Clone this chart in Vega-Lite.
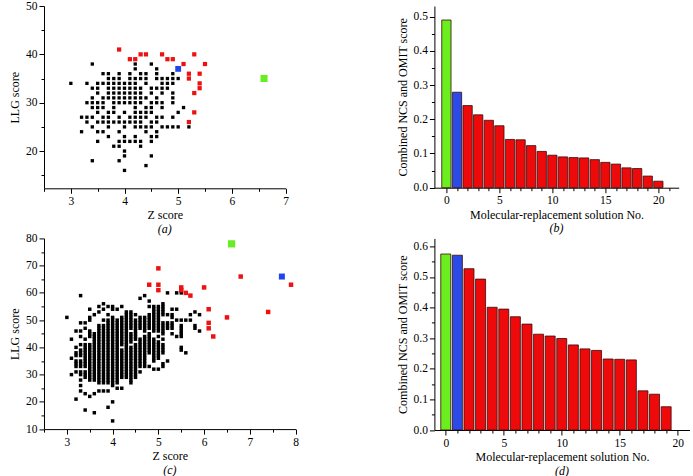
{
"$schema": "https://vega.github.io/schema/vega-lite/v6.json",
"padding": {"left": 8, "top": 0, "right": 0, "bottom": 0},
"background": "white",
"config": {
  "font": "Liberation Serif",
  "view": {"stroke": null},
  "axis": {"grid": false, "domain": true, "ticks": true, "domainColor": "#000", "tickColor": "#000", "labelColor": "#000", "titleColor": "#000", "labelFontSize": 11.5, "titleFontSize": 12, "titleFontWeight": "normal", "labelFont": "Liberation Serif", "titleFont": "Liberation Serif", "domainWidth": 1, "tickWidth": 1, "labelFlush": false, "labelOverlap": false},
  "axisX": {"titlePadding": 3, "labelPadding": 2},
  "axisY": {"titlePadding": 4},
  "title": {"font": "Liberation Serif", "fontSize": 12, "fontWeight": "normal", "fontStyle": "italic", "orient": "bottom", "offset": 3, "color": "#000"}
},
"datasets": {
"ak": [
{"z":3.4,"y":38},{"z":4.2,"y":38},{"z":4.5,"y":38},
{"z":4.2,"y":37},{"z":4.6,"y":37},
{"z":3.6,"y":36},{"z":3.7,"y":36},{"z":3.9,"y":36},{"z":4.1,"y":36},{"z":4.3,"y":36},{"z":4.4,"y":36},{"z":4.6,"y":36},{"z":4.9,"y":36},
{"z":3.7,"y":35},{"z":3.8,"y":35},{"z":3.9,"y":35},{"z":4.1,"y":35},{"z":4.2,"y":35},{"z":4.3,"y":35},{"z":4.4,"y":35},{"z":4.6,"y":35},{"z":4.7,"y":35},{"z":4.8,"y":35},{"z":4.9,"y":35},{"z":5.0,"y":35},
{"z":3.0,"y":34},{"z":3.3,"y":34},{"z":3.5,"y":34},{"z":3.6,"y":34},{"z":3.7,"y":34},{"z":3.8,"y":34},{"z":3.9,"y":34},{"z":4.0,"y":34},{"z":4.1,"y":34},{"z":4.2,"y":34},{"z":4.4,"y":34},{"z":4.7,"y":34},{"z":4.8,"y":34},{"z":4.9,"y":34},
{"z":3.4,"y":33},{"z":3.5,"y":33},{"z":3.7,"y":33},{"z":3.8,"y":33},{"z":3.9,"y":33},{"z":4.0,"y":33},{"z":4.1,"y":33},{"z":4.2,"y":33},{"z":4.3,"y":33},{"z":4.5,"y":33},{"z":4.6,"y":33},{"z":4.7,"y":33},{"z":4.8,"y":33},
{"z":3.5,"y":32},{"z":3.7,"y":32},{"z":3.8,"y":32},{"z":3.9,"y":32},{"z":4.0,"y":32},{"z":4.1,"y":32},{"z":4.2,"y":32},{"z":4.3,"y":32},{"z":4.5,"y":32},{"z":4.7,"y":32},{"z":4.9,"y":32},
{"z":3.4,"y":31},{"z":3.6,"y":31},{"z":3.7,"y":31},{"z":3.8,"y":31},{"z":3.9,"y":31},{"z":4.0,"y":31},{"z":4.1,"y":31},{"z":4.2,"y":31},{"z":4.3,"y":31},{"z":4.4,"y":31},{"z":4.6,"y":31},{"z":4.9,"y":31},
{"z":3.3,"y":30},{"z":3.4,"y":30},{"z":3.5,"y":30},{"z":3.6,"y":30},{"z":3.8,"y":30},{"z":3.9,"y":30},{"z":4.0,"y":30},{"z":4.1,"y":30},{"z":4.2,"y":30},{"z":4.3,"y":30},{"z":4.5,"y":30},{"z":4.6,"y":30},{"z":4.7,"y":30},{"z":4.9,"y":30},
{"z":3.4,"y":29},{"z":3.5,"y":29},{"z":3.6,"y":29},{"z":3.8,"y":29},{"z":4.2,"y":29},{"z":4.4,"y":29},{"z":4.5,"y":29},{"z":4.7,"y":29},{"z":5.1,"y":29},
{"z":3.5,"y":28},{"z":3.7,"y":28},{"z":3.8,"y":28},{"z":4.0,"y":28},{"z":4.2,"y":28},{"z":4.3,"y":28},{"z":4.4,"y":28},{"z":4.5,"y":28},{"z":5.0,"y":28},
{"z":3.2,"y":27},{"z":3.3,"y":27},{"z":3.4,"y":27},{"z":3.6,"y":27},{"z":3.7,"y":27},{"z":3.9,"y":27},{"z":4.1,"y":27},{"z":4.2,"y":27},{"z":4.3,"y":27},{"z":4.4,"y":27},{"z":4.6,"y":27},{"z":4.7,"y":27},{"z":4.9,"y":27},
{"z":3.3,"y":26},{"z":3.5,"y":26},{"z":3.6,"y":26},{"z":3.7,"y":26},{"z":3.8,"y":26},{"z":3.9,"y":26},{"z":4.0,"y":26},{"z":4.1,"y":26},{"z":4.2,"y":26},{"z":4.3,"y":26},{"z":4.5,"y":26},{"z":4.6,"y":26},
{"z":3.4,"y":25},{"z":3.7,"y":25},{"z":4.0,"y":25},{"z":4.2,"y":25},{"z":4.3,"y":25},{"z":4.4,"y":25},{"z":4.5,"y":25},{"z":4.7,"y":25},{"z":4.8,"y":25},{"z":4.9,"y":25},{"z":5.0,"y":25},{"z":5.2,"y":25},
{"z":3.2,"y":24},{"z":3.5,"y":24},{"z":3.6,"y":24},{"z":3.9,"y":24},{"z":4.4,"y":24},{"z":4.6,"y":24},
{"z":3.7,"y":23},{"z":4.0,"y":23},{"z":4.2,"y":23},{"z":4.5,"y":23},{"z":4.6,"y":23},
{"z":3.5,"y":22},{"z":3.9,"y":22},{"z":4.0,"y":22},{"z":4.1,"y":22},{"z":4.2,"y":22},{"z":4.3,"y":22},{"z":4.5,"y":22},
{"z":3.8,"y":21},{"z":3.9,"y":21},{"z":4.3,"y":21},
{"z":4.0,"y":20},
{"z":4.0,"y":19},{"z":4.5,"y":19},
{"z":3.4,"y":18},{"z":3.9,"y":18},
{"z":4.4,"y":17},
{"z":4.0,"y":16}
],
"ah": [
{"z":3.9,"y":41,"g":"r"},{"z":4.1,"y":39,"g":"r"},{"z":4.2,"y":39,"g":"r"},{"z":4.3,"y":40,"g":"r"},{"z":4.4,"y":40,"g":"r"},{"z":4.7,"y":40,"g":"r"},{"z":4.8,"y":39,"g":"r"},{"z":4.9,"y":39,"g":"r"},{"z":5.1,"y":38,"g":"r"},{"z":5.3,"y":40,"g":"r"},{"z":5.5,"y":38,"g":"r"},{"z":5.2,"y":36,"g":"r"},{"z":5.4,"y":36,"g":"r"},{"z":5.2,"y":35,"g":"r"},{"z":5.4,"y":34,"g":"r"},{"z":5.4,"y":33,"g":"r"},{"z":5.3,"y":32,"g":"r"},{"z":5.3,"y":28,"g":"r"},{"z":5.2,"y":26,"g":"r"},
{"z":5.0,"y":37,"g":"b"},
{"z":6.6,"y":35,"g":"g"}
],
"ck": [
{"z":3.0,"y":51},
{"z":3.1,"y":43},{"z":3.1,"y":36},{"z":3.1,"y":30},
{"z":3.2,"y":46},{"z":3.2,"y":40},{"z":3.2,"y":38},{"z":3.2,"y":37},{"z":3.2,"y":35},{"z":3.2,"y":34},{"z":3.2,"y":33},{"z":3.2,"y":31},{"z":3.2,"y":21},
{"z":3.3,"y":59},{"z":3.3,"y":49},{"z":3.3,"y":46},{"z":3.3,"y":44},{"z":3.3,"y":41},{"z":3.3,"y":39},{"z":3.3,"y":38},{"z":3.3,"y":37},{"z":3.3,"y":35},{"z":3.3,"y":34},{"z":3.3,"y":33},{"z":3.3,"y":31},{"z":3.3,"y":30},{"z":3.3,"y":28},{"z":3.3,"y":26},{"z":3.3,"y":24},
{"z":3.4,"y":49},{"z":3.4,"y":47},{"z":3.4,"y":43},{"z":3.4,"y":41},{"z":3.4,"y":40},{"z":3.4,"y":39},{"z":3.4,"y":38},{"z":3.4,"y":37},{"z":3.4,"y":36},{"z":3.4,"y":35},{"z":3.4,"y":34},{"z":3.4,"y":33},{"z":3.4,"y":31},{"z":3.4,"y":30},{"z":3.4,"y":29},{"z":3.4,"y":23},{"z":3.4,"y":17},
{"z":3.5,"y":54},{"z":3.5,"y":51},{"z":3.5,"y":50},{"z":3.5,"y":46},{"z":3.5,"y":45},{"z":3.5,"y":44},{"z":3.5,"y":41},{"z":3.5,"y":40},{"z":3.5,"y":39},{"z":3.5,"y":38},{"z":3.5,"y":37},{"z":3.5,"y":36},{"z":3.5,"y":35},{"z":3.5,"y":34},{"z":3.5,"y":33},{"z":3.5,"y":32},{"z":3.5,"y":31},{"z":3.5,"y":30},{"z":3.5,"y":29},{"z":3.5,"y":28},{"z":3.5,"y":22},
{"z":3.6,"y":52},{"z":3.6,"y":45},{"z":3.6,"y":44},{"z":3.6,"y":43},{"z":3.6,"y":42},{"z":3.6,"y":41},{"z":3.6,"y":40},{"z":3.6,"y":39},{"z":3.6,"y":38},{"z":3.6,"y":37},{"z":3.6,"y":36},{"z":3.6,"y":35},{"z":3.6,"y":34},{"z":3.6,"y":33},{"z":3.6,"y":32},{"z":3.6,"y":31},{"z":3.6,"y":30},{"z":3.6,"y":29},{"z":3.6,"y":28},{"z":3.6,"y":23},{"z":3.6,"y":16},
{"z":3.7,"y":55},{"z":3.7,"y":53},{"z":3.7,"y":48},{"z":3.7,"y":47},{"z":3.7,"y":46},{"z":3.7,"y":45},{"z":3.7,"y":44},{"z":3.7,"y":43},{"z":3.7,"y":42},{"z":3.7,"y":41},{"z":3.7,"y":40},{"z":3.7,"y":39},{"z":3.7,"y":38},{"z":3.7,"y":37},{"z":3.7,"y":36},{"z":3.7,"y":35},{"z":3.7,"y":34},{"z":3.7,"y":33},{"z":3.7,"y":32},{"z":3.7,"y":31},{"z":3.7,"y":30},{"z":3.7,"y":29},{"z":3.7,"y":28},{"z":3.7,"y":27},{"z":3.7,"y":24},
{"z":3.8,"y":56},{"z":3.8,"y":54},{"z":3.8,"y":50},{"z":3.8,"y":48},{"z":3.8,"y":47},{"z":3.8,"y":46},{"z":3.8,"y":45},{"z":3.8,"y":44},{"z":3.8,"y":43},{"z":3.8,"y":42},{"z":3.8,"y":41},{"z":3.8,"y":40},{"z":3.8,"y":39},{"z":3.8,"y":38},{"z":3.8,"y":37},{"z":3.8,"y":36},{"z":3.8,"y":35},{"z":3.8,"y":34},{"z":3.8,"y":33},{"z":3.8,"y":32},{"z":3.8,"y":31},{"z":3.8,"y":30},{"z":3.8,"y":29},{"z":3.8,"y":28},{"z":3.8,"y":27},{"z":3.8,"y":24},
{"z":3.9,"y":55},{"z":3.9,"y":52},{"z":3.9,"y":50},{"z":3.9,"y":49},{"z":3.9,"y":48},{"z":3.9,"y":47},{"z":3.9,"y":46},{"z":3.9,"y":45},{"z":3.9,"y":44},{"z":3.9,"y":43},{"z":3.9,"y":42},{"z":3.9,"y":41},{"z":3.9,"y":40},{"z":3.9,"y":39},{"z":3.9,"y":38},{"z":3.9,"y":37},{"z":3.9,"y":36},{"z":3.9,"y":35},{"z":3.9,"y":34},{"z":3.9,"y":33},{"z":3.9,"y":32},{"z":3.9,"y":31},{"z":3.9,"y":30},{"z":3.9,"y":29},{"z":3.9,"y":28},{"z":3.9,"y":27},{"z":3.9,"y":24},{"z":3.9,"y":18},
{"z":4.0,"y":55},{"z":4.0,"y":54},{"z":4.0,"y":51},{"z":4.0,"y":50},{"z":4.0,"y":49},{"z":4.0,"y":48},{"z":4.0,"y":47},{"z":4.0,"y":46},{"z":4.0,"y":45},{"z":4.0,"y":44},{"z":4.0,"y":43},{"z":4.0,"y":42},{"z":4.0,"y":41},{"z":4.0,"y":40},{"z":4.0,"y":39},{"z":4.0,"y":38},{"z":4.0,"y":37},{"z":4.0,"y":36},{"z":4.0,"y":35},{"z":4.0,"y":34},{"z":4.0,"y":33},{"z":4.0,"y":32},{"z":4.0,"y":31},{"z":4.0,"y":30},{"z":4.0,"y":29},{"z":4.0,"y":28},{"z":4.0,"y":27},{"z":4.0,"y":26},{"z":4.0,"y":20},{"z":4.0,"y":13},
{"z":4.1,"y":54},{"z":4.1,"y":50},{"z":4.1,"y":49},{"z":4.1,"y":48},{"z":4.1,"y":47},{"z":4.1,"y":46},{"z":4.1,"y":45},{"z":4.1,"y":44},{"z":4.1,"y":43},{"z":4.1,"y":42},{"z":4.1,"y":41},{"z":4.1,"y":40},{"z":4.1,"y":39},{"z":4.1,"y":38},{"z":4.1,"y":37},{"z":4.1,"y":36},{"z":4.1,"y":35},{"z":4.1,"y":34},{"z":4.1,"y":33},{"z":4.1,"y":32},{"z":4.1,"y":31},{"z":4.1,"y":30},{"z":4.1,"y":29},{"z":4.1,"y":28},{"z":4.1,"y":27},{"z":4.1,"y":25},
{"z":4.2,"y":55},{"z":4.2,"y":51},{"z":4.2,"y":50},{"z":4.2,"y":49},{"z":4.2,"y":48},{"z":4.2,"y":47},{"z":4.2,"y":46},{"z":4.2,"y":45},{"z":4.2,"y":44},{"z":4.2,"y":43},{"z":4.2,"y":42},{"z":4.2,"y":41},{"z":4.2,"y":39},{"z":4.2,"y":38},{"z":4.2,"y":37},{"z":4.2,"y":36},{"z":4.2,"y":35},{"z":4.2,"y":34},{"z":4.2,"y":33},{"z":4.2,"y":32},{"z":4.2,"y":31},{"z":4.2,"y":30},{"z":4.2,"y":29},{"z":4.2,"y":25},
{"z":4.3,"y":53},{"z":4.3,"y":52},{"z":4.3,"y":51},{"z":4.3,"y":50},{"z":4.3,"y":49},{"z":4.3,"y":48},{"z":4.3,"y":47},{"z":4.3,"y":46},{"z":4.3,"y":45},{"z":4.3,"y":44},{"z":4.3,"y":43},{"z":4.3,"y":42},{"z":4.3,"y":41},{"z":4.3,"y":40},{"z":4.3,"y":39},{"z":4.3,"y":38},{"z":4.3,"y":37},{"z":4.3,"y":36},{"z":4.3,"y":35},{"z":4.3,"y":34},{"z":4.3,"y":33},{"z":4.3,"y":32},{"z":4.3,"y":31},{"z":4.3,"y":30},{"z":4.3,"y":29},
{"z":4.4,"y":53},{"z":4.4,"y":52},{"z":4.4,"y":51},{"z":4.4,"y":50},{"z":4.4,"y":49},{"z":4.4,"y":48},{"z":4.4,"y":47},{"z":4.4,"y":45},{"z":4.4,"y":44},{"z":4.4,"y":43},{"z":4.4,"y":42},{"z":4.4,"y":40},{"z":4.4,"y":39},{"z":4.4,"y":38},{"z":4.4,"y":37},{"z":4.4,"y":36},{"z":4.4,"y":35},{"z":4.4,"y":34},{"z":4.4,"y":33},{"z":4.4,"y":32},{"z":4.4,"y":31},{"z":4.4,"y":30},{"z":4.4,"y":29},{"z":4.4,"y":28},{"z":4.4,"y":27},
{"z":4.5,"y":52},{"z":4.5,"y":50},{"z":4.5,"y":49},{"z":4.5,"y":48},{"z":4.5,"y":47},{"z":4.5,"y":46},{"z":4.5,"y":45},{"z":4.5,"y":44},{"z":4.5,"y":43},{"z":4.5,"y":41},{"z":4.5,"y":40},{"z":4.5,"y":39},{"z":4.5,"y":38},{"z":4.5,"y":37},{"z":4.5,"y":36},{"z":4.5,"y":35},{"z":4.5,"y":34},{"z":4.5,"y":33},{"z":4.5,"y":32},{"z":4.5,"y":31},{"z":4.5,"y":30},{"z":4.5,"y":29},
{"z":4.6,"y":58},{"z":4.6,"y":51},{"z":4.6,"y":50},{"z":4.6,"y":49},{"z":4.6,"y":48},{"z":4.6,"y":47},{"z":4.6,"y":43},{"z":4.6,"y":42},{"z":4.6,"y":41},{"z":4.6,"y":40},{"z":4.6,"y":39},{"z":4.6,"y":38},{"z":4.6,"y":37},{"z":4.6,"y":36},{"z":4.6,"y":35},{"z":4.6,"y":34},{"z":4.6,"y":33},{"z":4.6,"y":31},
{"z":4.7,"y":59},{"z":4.7,"y":51},{"z":4.7,"y":50},{"z":4.7,"y":49},{"z":4.7,"y":48},{"z":4.7,"y":47},{"z":4.7,"y":46},{"z":4.7,"y":44},{"z":4.7,"y":43},{"z":4.7,"y":42},{"z":4.7,"y":41},{"z":4.7,"y":40},{"z":4.7,"y":39},{"z":4.7,"y":38},{"z":4.7,"y":37},{"z":4.7,"y":36},{"z":4.7,"y":35},{"z":4.7,"y":34},{"z":4.7,"y":33},
{"z":4.8,"y":57},{"z":4.8,"y":55},{"z":4.8,"y":52},{"z":4.8,"y":51},{"z":4.8,"y":50},{"z":4.8,"y":49},{"z":4.8,"y":48},{"z":4.8,"y":47},{"z":4.8,"y":45},{"z":4.8,"y":44},{"z":4.8,"y":43},{"z":4.8,"y":42},{"z":4.8,"y":41},{"z":4.8,"y":40},{"z":4.8,"y":39},{"z":4.8,"y":38},{"z":4.8,"y":33},
{"z":4.9,"y":55},{"z":4.9,"y":54},{"z":4.9,"y":53},{"z":4.9,"y":52},{"z":4.9,"y":51},{"z":4.9,"y":50},{"z":4.9,"y":49},{"z":4.9,"y":48},{"z":4.9,"y":47},{"z":4.9,"y":46},{"z":4.9,"y":43},{"z":4.9,"y":42},{"z":4.9,"y":41},{"z":4.9,"y":40},{"z":4.9,"y":39},{"z":4.9,"y":38},{"z":4.9,"y":37},{"z":4.9,"y":36},{"z":4.9,"y":35},{"z":4.9,"y":32},
{"z":5.0,"y":55},{"z":5.0,"y":54},{"z":5.0,"y":53},{"z":5.0,"y":52},{"z":5.0,"y":51},{"z":5.0,"y":50},{"z":5.0,"y":49},{"z":5.0,"y":48},{"z":5.0,"y":47},{"z":5.0,"y":46},{"z":5.0,"y":44},{"z":5.0,"y":42},{"z":5.0,"y":41},{"z":5.0,"y":40},{"z":5.0,"y":39},{"z":5.0,"y":38},{"z":5.0,"y":37},{"z":5.0,"y":36},{"z":5.0,"y":32},
{"z":5.1,"y":56},{"z":5.1,"y":55},{"z":5.1,"y":54},{"z":5.1,"y":53},{"z":5.1,"y":52},{"z":5.1,"y":49},{"z":5.1,"y":48},{"z":5.1,"y":47},{"z":5.1,"y":46},{"z":5.1,"y":45},{"z":5.1,"y":43},{"z":5.1,"y":41},{"z":5.1,"y":40},{"z":5.1,"y":39},{"z":5.1,"y":38},{"z":5.1,"y":34},{"z":5.1,"y":33},
{"z":5.2,"y":60},{"z":5.2,"y":52},{"z":5.2,"y":49},{"z":5.2,"y":48},{"z":5.2,"y":47},{"z":5.2,"y":35},
{"z":5.3,"y":54},{"z":5.3,"y":52},{"z":5.3,"y":51},{"z":5.3,"y":49},{"z":5.3,"y":48},{"z":5.3,"y":47},{"z":5.3,"y":45},
{"z":5.4,"y":60},{"z":5.4,"y":54},{"z":5.4,"y":50},{"z":5.4,"y":44},
{"z":5.5,"y":60},{"z":5.5,"y":50},{"z":5.5,"y":48},{"z":5.5,"y":47},{"z":5.5,"y":46},{"z":5.5,"y":45},{"z":5.5,"y":44},{"z":5.5,"y":40},{"z":5.5,"y":39},
{"z":5.6,"y":50},{"z":5.6,"y":38},
{"z":5.7,"y":52},{"z":5.7,"y":50},
{"z":5.8,"y":53},{"z":5.8,"y":48},{"z":5.8,"y":47},
{"z":5.9,"y":52},{"z":5.9,"y":46}
],
"ch": [
{"z":4.8,"y":63,"g":"r"},{"z":5.0,"y":69,"g":"r"},{"z":5.0,"y":63,"g":"r"},{"z":5.0,"y":61,"g":"r"},{"z":5.5,"y":62,"g":"r"},{"z":5.5,"y":61,"g":"r"},{"z":5.6,"y":60,"g":"r"},{"z":5.7,"y":59,"g":"r"},{"z":6.0,"y":62,"g":"r"},{"z":6.1,"y":54,"g":"r"},{"z":6.1,"y":49,"g":"r"},{"z":6.1,"y":47,"g":"r"},{"z":6.2,"y":44,"g":"r"},{"z":6.5,"y":51,"g":"r"},{"z":6.8,"y":66,"g":"r"},{"z":7.4,"y":53,"g":"r"},{"z":7.9,"y":63,"g":"r"},
{"z":7.7,"y":66,"g":"b"},
{"z":6.6,"y":78,"g":"g"}
],
"b": [
{"i":0,"v":0.49,"g":"g"},{"i":1,"v":0.279,"g":"b"},{"i":2,"v":0.240,"g":"r"},{"i":3,"v":0.213,"g":"r"},{"i":4,"v":0.197,"g":"r"},{"i":5,"v":0.181,"g":"r"},{"i":6,"v":0.141,"g":"r"},{"i":7,"v":0.140,"g":"r"},{"i":8,"v":0.123,"g":"r"},{"i":9,"v":0.106,"g":"r"},{"i":10,"v":0.095,"g":"r"},{"i":11,"v":0.090,"g":"r"},{"i":12,"v":0.088,"g":"r"},{"i":13,"v":0.087,"g":"r"},{"i":14,"v":0.082,"g":"r"},{"i":15,"v":0.074,"g":"r"},{"i":16,"v":0.069,"g":"r"},{"i":17,"v":0.058,"g":"r"},{"i":18,"v":0.056,"g":"r"},{"i":19,"v":0.034,"g":"r"},{"i":20,"v":0.019,"g":"r"}
],
"d": [
{"i":0,"v":0.575,"g":"g"},{"i":1,"v":0.571,"g":"b"},{"i":2,"v":0.527,"g":"r"},{"i":3,"v":0.493,"g":"r"},{"i":4,"v":0.401,"g":"r"},{"i":5,"v":0.395,"g":"r"},{"i":6,"v":0.370,"g":"r"},{"i":7,"v":0.346,"g":"r"},{"i":8,"v":0.313,"g":"r"},{"i":9,"v":0.307,"g":"r"},{"i":10,"v":0.299,"g":"r"},{"i":11,"v":0.278,"g":"r"},{"i":12,"v":0.265,"g":"r"},{"i":13,"v":0.260,"g":"r"},{"i":14,"v":0.232,"g":"r"},{"i":15,"v":0.231,"g":"r"},{"i":16,"v":0.229,"g":"r"},{"i":17,"v":0.128,"g":"r"},{"i":18,"v":0.117,"g":"r"},{"i":19,"v":0.076,"g":"r"}
]
},
"columns": 2,
"align": "each",
"bounds": "flush",
"spacing": {"row": 49.4, "column": 138.4},
"resolve": {"scale": {"color": "independent", "size": "independent"}},
"concat": [
{
  "width": 241.5, "height": 182.3,
  "title": "(a)",
  "encoding": {
    "x": {"field": "z", "type": "quantitative", "scale": {"domain": [2.5, 7], "nice": false, "zero": false},
      "axis": {"title": "Z score", "domain": true, "ticks": true, "values": [2.5,3,3.5,4,4.5,5,5.5,6,6.5,7], "labelExpr": "datum.value % 1 === 0 ? format(datum.value, 'd') : ''", "tickSize": {"condition": {"test": "datum.value % 1 === 0", "value": 5}, "value": 3}}},
    "y": {"field": "y", "type": "quantitative", "scale": {"domain": [12.3, 50], "nice": false, "zero": false},
      "axis": {"title": "LLG score", "values": [15,20,25,30,35,40,45,50], "labelExpr": "datum.value % 10 === 0 ? datum.label : ''", "tickSize": {"condition": {"test": "datum.value % 10 === 0", "value": 5}, "value": 3}}}
  },
  "layer": [
    {"data": {"name": "ak"}, "mark": {"type": "square", "size": 11, "color": "#000", "opacity": 1}},
    {"data": {"name": "ah"}, "mark": {"type": "square", "opacity": 1},
     "encoding": {
       "color": {"field": "g", "type": "nominal", "scale": {"domain": ["r","b","g"], "range": ["#ee1111","#2244ee","#66ee22"]}, "legend": null},
       "size": {"field": "g", "type": "ordinal", "scale": {"domain": ["r","b","g"], "range": [18, 50, 50]}, "legend": null}
     }}
  ]
},
{
  "width": 244.3, "height": 181.7,
  "title": "(b)",
  "data": {"name": "b"},
  "mark": {"type": "bar", "size": 9.3, "stroke": "#3a0a0a", "strokeWidth": 0.8, "opacity": 1},
  "encoding": {
    "x": {"field": "i", "type": "quantitative", "scale": {"domain": [-0.66, 21.45], "nice": false, "zero": false},
      "axis": {"title": "Molecular-replacement solution No.", "values": [0,1,2,3,4,5,6,7,8,9,10,11,12,13,14,15,16,17,18,19,20,21], "labelExpr": "datum.value % 5 === 0 ? datum.label : ''", "tickSize": {"condition": {"test": "datum.value % 5 === 0", "value": 5}, "value": 3}}},
    "y": {"field": "v", "type": "quantitative", "scale": {"domain": [0, 0.531], "nice": false},
      "axis": {"title": "Combined NCS and OMIT score", "values": [0,0.05,0.1,0.15,0.2,0.25,0.3,0.35,0.4,0.45,0.5], "labelExpr": "round(datum.value*20) % 2 === 0 ? format(datum.value, '.1f') : ''", "tickSize": {"condition": {"test": "round(datum.value*20) % 2 === 0", "value": 5}, "value": 3}}},
    "color": {"field": "g", "type": "nominal", "scale": {"domain": ["r","b","g"], "range": ["#ee0a0a","#2a4be8","#6aee1e"]}, "legend": null}
  }
},
{
  "width": 251.6, "height": 190.7,
  "title": "(c)",
  "encoding": {
    "x": {"field": "z", "type": "quantitative", "scale": {"domain": [2.5, 8], "nice": false, "zero": false},
      "axis": {"title": "Z score", "domain": true, "ticks": true, "values": [2.5,3,3.5,4,4.5,5,5.5,6,6.5,7,7.5,8], "labelExpr": "datum.value % 1 === 0 ? format(datum.value, 'd') : ''", "tickSize": {"condition": {"test": "datum.value % 1 === 0", "value": 5}, "value": 3}}},
    "y": {"field": "y", "type": "quantitative", "scale": {"domain": [10, 80], "nice": false, "zero": false},
      "axis": {"title": "LLG score", "values": [10,15,20,25,30,35,40,45,50,55,60,65,70,75,80], "labelExpr": "datum.value % 10 === 0 ? datum.label : ''", "tickSize": {"condition": {"test": "datum.value % 10 === 0", "value": 5}, "value": 3}}}
  },
  "layer": [
    {"data": {"name": "ck"}, "mark": {"type": "square", "size": 12, "color": "#000", "opacity": 1}},
    {"data": {"name": "ch"}, "mark": {"type": "square", "opacity": 1},
     "encoding": {
       "color": {"field": "g", "type": "nominal", "scale": {"domain": ["r","b","g"], "range": ["#ee1111","#2244ee","#66ee22"]}, "legend": null},
       "size": {"field": "g", "type": "ordinal", "scale": {"domain": ["r","b","g"], "range": [20, 52, 52]}, "legend": null}
     }}
  ]
},
{
  "width": 255.3, "height": 191.6,
  "title": "(d)",
  "data": {"name": "d"},
  "mark": {"type": "bar", "size": 10, "stroke": "#3a0a0a", "strokeWidth": 0.8, "opacity": 1},
  "encoding": {
    "x": {"field": "i", "type": "quantitative", "scale": {"domain": [-0.55, 20.6], "nice": false, "zero": false},
      "axis": {"title": "Molecular-replacement solution No.", "values": [0,1,2,3,4,5,6,7,8,9,10,11,12,13,14,15,16,17,18,19,20], "labelExpr": "datum.value % 5 === 0 ? datum.label : ''", "tickSize": {"condition": {"test": "datum.value % 5 === 0", "value": 5}, "value": 3}}},
    "y": {"field": "v", "type": "quantitative", "scale": {"domain": [0, 0.626], "nice": false},
      "axis": {"title": "Combined NCS and OMIT score", "values": [0,0.05,0.1,0.15,0.2,0.25,0.3,0.35,0.4,0.45,0.5,0.55,0.6], "labelExpr": "round(datum.value*20) % 2 === 0 ? format(datum.value, '.1f') : ''", "tickSize": {"condition": {"test": "round(datum.value*20) % 2 === 0", "value": 5}, "value": 3}}},
    "color": {"field": "g", "type": "nominal", "scale": {"domain": ["r","b","g"], "range": ["#ee0a0a","#2a4be8","#6aee1e"]}, "legend": null}
  }
}
]
}
